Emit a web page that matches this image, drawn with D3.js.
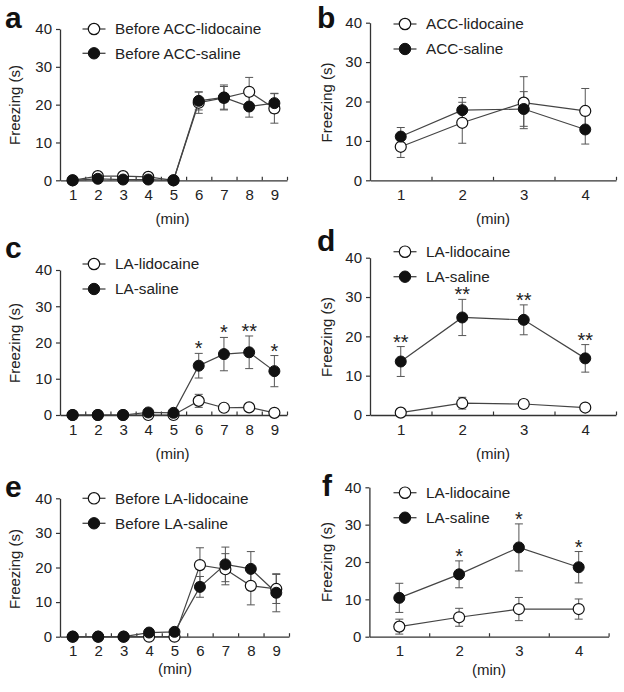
<!DOCTYPE html>
<html>
<head>
<meta charset="utf-8">
<script src="https://cdn.jsdelivr.net/npm/d3@7"></script>
<style>
  html, body { margin: 0; padding: 0; background: #fff; }
  svg { display: block; }
  svg text { font-family: "Liberation Sans", Arial, Helvetica, sans-serif; }
</style>
</head>
<body>
<svg id="chart" width="624" height="692"></svg>
<script>
// ---------------- DATA ----------------
const minutes9 = [1, 2, 3, 4, 5, 6, 7, 8, 9];
const minutes4 = [1, 2, 3, 4];
const freezeTicks = [0, 10, 20, 30, 40];
const yAxisTitle = "Freezing (s)";
const xAxisTitle = "(min)";

// panel a
const aLegend = ["Before ACC-lidocaine", "Before ACC-saline"];
const aLidocaine    = [0, 1.1, 1.1, 0.9, 0, 20.5, 21.8, 23.4, 19.0];
const aLidocaineSEM = [0.3, 0.6, 0.8, 0.5, 0, 2.8, 3.0, 3.8, 3.9];
const aSaline       = [0, 0.4, 0.2, 0.2, 0, 21.0, 21.9, 19.5, 20.4];
const aSalineSEM    = [0.2, 0.4, 0.3, 0.3, 0, 2.4, 3.3, 2.8, 2.6];
const aStars        = ["", "", "", "", "", "", "", "", ""];

// panel b
const bLegend = ["ACC-lidocaine", "ACC-saline"];
const bLidocaine    = [8.5, 14.6, 19.7, 17.6];
const bLidocaineSEM = [2.7, 5.2, 6.6, 5.7];
const bSaline       = [11.1, 17.8, 18.1, 12.9];
const bSalineSEM    = [2.3, 3.2, 4.4, 3.7];
const bStars        = ["", "", "", ""];

// panel c
const cLegend = ["LA-lidocaine", "LA-saline"];
const cLidocaine    = [0, 0, 0, 0, 0, 3.9, 2.0, 2.1, 0.6];
const cLidocaineSEM = [0, 0, 0, 0.3, 0.3, 1.8, 1.0, 0.7, 0.3];
const cSaline       = [0, 0, 0, 0.7, 0.6, 13.6, 16.8, 17.3, 12.1];
const cSalineSEM    = [0, 0, 0, 0.3, 0.3, 3.4, 4.6, 4.5, 4.3];
const cStars        = ["", "", "", "", "", "*", "*", "**", "*"];

// panel d
const dLegend = ["LA-lidocaine", "LA-saline"];
const dLidocaine    = [0.6, 3.0, 2.8, 1.9];
const dLidocaineSEM = [0.4, 1.5, 1.0, 0.8];
const dSaline       = [13.6, 24.8, 24.2, 14.4];
const dSalineSEM    = [3.8, 4.6, 3.8, 3.5];
const dStars        = ["**", "**", "**", "**"];

// panel e
const eLegend = ["Before LA-lidocaine", "Before LA-saline"];
const eLidocaine    = [0, 0, 0, 0, 0, 20.7, 19.5, 14.7, 13.8];
const eLidocaineSEM = [0, 0, 0, 0, 0, 5.0, 4.5, 5.5, 4.2];
const eSaline       = [0, 0, 0, 1.2, 1.4, 14.4, 20.9, 19.6, 12.7];
const eSalineSEM    = [0, 0, 0, 0.4, 0.4, 3.0, 5.0, 5.0, 5.5];
const eStars        = ["", "", "", "", "", "", "", "", ""];

// panel f
const fLegend = ["LA-lidocaine", "LA-saline"];
const fLidocaine    = [2.7, 5.2, 7.4, 7.4];
const fLidocaineSEM = [2.0, 2.4, 3.1, 2.7];
const fSaline       = [10.4, 16.7, 23.9, 18.6];
const fSalineSEM    = [3.9, 3.6, 6.3, 4.2];
const fStars        = ["", "*", "*", "*"];

// ---------------- LAYOUT ----------------
const panels = [
  { tag: "a", tagPos: [5, 28], mins: minutes9, xr: [60, 287], yr: [180.3, 29],
    leg: aLegend, legX: 94, legY: [29, 53.3], yTitle: [20, 105], xTitle: [172.5, 224],
    lido: aLidocaine, lidoE: aLidocaineSEM, sal: aSaline, salE: aSalineSEM, stars: aStars },
  { tag: "b", tagPos: [317, 28], mins: minutes4, xr: [370, 616], yr: [180.3, 22.7],
    leg: bLegend, legX: 405, legY: [24, 49], yTitle: [332, 102.5], xTitle: [493, 224],
    lido: bLidocaine, lidoE: bLidocaineSEM, sal: bSaline, salE: bSalineSEM, stars: bStars },
  { tag: "c", tagPos: [5, 258], mins: minutes9, xr: [60, 287], yr: [415, 270],
    leg: cLegend, legX: 94, legY: [264, 289], yTitle: [20, 343], xTitle: [172.5, 459],
    lido: cLidocaine, lidoE: cLidocaineSEM, sal: cSaline, salE: cSalineSEM, stars: cStars },
  { tag: "d", tagPos: [317, 251], mins: minutes4, xr: [370, 616], yr: [415, 257.7],
    leg: dLegend, legX: 405, legY: [251.7, 276.7], yTitle: [332, 337], xTitle: [493, 459],
    lido: dLidocaine, lidoE: dLidocaineSEM, sal: dSaline, salE: dSalineSEM, stars: dStars },
  { tag: "e", tagPos: [5, 497], mins: minutes9, xr: [60, 289], yr: [636.7, 498.3],
    leg: eLegend, legX: 94, legY: [498.3, 523.3], yTitle: [20, 569], xTitle: [175, 674],
    lido: eLidocaine, lidoE: eLidocaineSEM, sal: eSaline, salE: eSalineSEM, stars: eStars },
  { tag: "f", tagPos: [322, 496], mins: minutes4, xr: [369.4, 608.6], yr: [636.7, 487.3],
    leg: fLegend, legX: 405, legY: [492.7, 517.7], yTitle: [332, 562], xTitle: [489, 675],
    lido: fLidocaine, lidoE: fLidocaineSEM, sal: fSaline, salE: fSalineSEM, stars: fStars }
];

const FONT = "'Liberation Sans', Arial, Helvetica, sans-serif";
const TEXT = "#222";
const AXIS = "#333";
const LINE = "#444";
const MARK = "#111";
const R = 5.5;

const svg = d3.select("#chart");

panels.forEach(p => {
  const g = svg.append("g");
  const n = p.mins.length;
  const x = d3.scaleLinear().domain([0.5, n + 0.5]).range(p.xr);
  const y = d3.scaleLinear().domain([0, 40]).range(p.yr);

  // panel tag
  g.append("text").attr("x", p.tagPos[0]).attr("y", p.tagPos[1]).attr("font-family", FONT)
    .attr("font-size", 30).attr("font-weight", "bold").attr("fill", "#111").text(p.tag);

  // y axis
  const yAx = g.append("g").attr("transform", `translate(${p.xr[0]},0)`)
    .call(d3.axisLeft(y).tickValues(freezeTicks).tickSizeInner(4).tickSizeOuter(0).tickPadding(4));
  // x axis labels (integers) + domain
  const xAx = g.append("g").attr("transform", `translate(0,${p.yr[0]})`)
    .call(d3.axisBottom(x).tickValues(p.mins).tickSize(0).tickPadding(9).tickFormat(d3.format("d")));
  // x axis ticks at half positions, pointing inward
  const halfTicks = p.mins.map(m => m + 0.5);
  const xT = g.append("g").attr("transform", `translate(0,${p.yr[0]})`)
    .call(d3.axisBottom(x).tickValues(halfTicks).tickSizeInner(-3.5).tickSizeOuter(0).tickFormat(""));
  xT.select(".domain").remove();

  [yAx, xAx, xT].forEach(a => {
    a.selectAll(".domain").attr("stroke", AXIS).attr("stroke-width", 1.3);
    a.selectAll(".tick line").attr("stroke", AXIS).attr("stroke-width", 1.2);
    a.selectAll(".tick text").attr("fill", TEXT).attr("font-size", 15).attr("font-family", FONT);
  });

  // axis titles
  g.append("text").attr("transform", `translate(${p.yTitle[0]},${p.yTitle[1]}) rotate(-90)`)
    .attr("text-anchor", "middle").attr("font-size", 15).attr("font-family", FONT)
    .attr("fill", TEXT).text(yAxisTitle);
  g.append("text").attr("x", p.xTitle[0]).attr("y", p.xTitle[1])
    .attr("text-anchor", "middle").attr("font-size", 15).attr("font-family", FONT)
    .attr("fill", TEXT).text(xAxisTitle);

  // series
  const series = [
    { vals: p.lido, err: p.lidoE, open: true },
    { vals: p.sal, err: p.salE, open: false }
  ];
  const line = d3.line().x((d, i) => x(p.mins[i])).y(d => y(d));

  series.forEach(s => {
    g.append("path").datum(s.vals).attr("d", line)
      .attr("fill", "none").attr("stroke", LINE).attr("stroke-width", 1.2);
  });
  series.forEach(s => {
    const eg = g.append("g").attr("stroke", "#555").attr("stroke-width", 1);
    s.vals.forEach((v, i) => {
      const e = s.err[i];
      if (!e) return;
      const cx = x(p.mins[i]);
      const y1 = y(v + e), y2 = y(Math.max(0, v - e));
      eg.append("line").attr("x1", cx).attr("x2", cx).attr("y1", y1).attr("y2", y2);
      eg.append("line").attr("x1", cx - 4).attr("x2", cx + 4).attr("y1", y1).attr("y2", y1);
      eg.append("line").attr("x1", cx - 4).attr("x2", cx + 4).attr("y1", y2).attr("y2", y2);
    });
  });
  series.forEach(s => {
    g.append("g").selectAll("circle").data(s.vals).join("circle")
      .attr("cx", (d, i) => x(p.mins[i])).attr("cy", d => y(d)).attr("r", R)
      .attr("fill", s.open ? "#fff" : MARK)
      .attr("stroke", MARK).attr("stroke-width", s.open ? 1.2 : 1);
  });

  // significance stars
  p.stars.forEach((st, i) => {
    if (!st) return;
    const top = y(p.sal[i] + p.salE[i]);
    g.append("text").attr("x", x(p.mins[i])).attr("y", top + 2)
      .attr("text-anchor", "middle").attr("font-size", 20).attr("font-family", FONT)
      .attr("fill", TEXT).text(st);
  });

  // legend
  series.forEach((s, k) => {
    const ly = p.legY[k];
    g.append("line").attr("x1", p.legX - 11.5).attr("x2", p.legX + 11.5)
      .attr("y1", ly).attr("y2", ly).attr("stroke", LINE).attr("stroke-width", 1.3);
    g.append("circle").attr("cx", p.legX).attr("cy", ly).attr("r", R + 0.2)
      .attr("fill", s.open ? "#fff" : MARK).attr("stroke", MARK).attr("stroke-width", s.open ? 1.2 : 1);
    g.append("text").attr("x", p.legX + 21).attr("y", ly + 5.4)
      .attr("font-size", 15.3).attr("font-family", FONT).attr("fill", TEXT).text(p.leg[k]);
  });
});
</script>
</body>
</html>
